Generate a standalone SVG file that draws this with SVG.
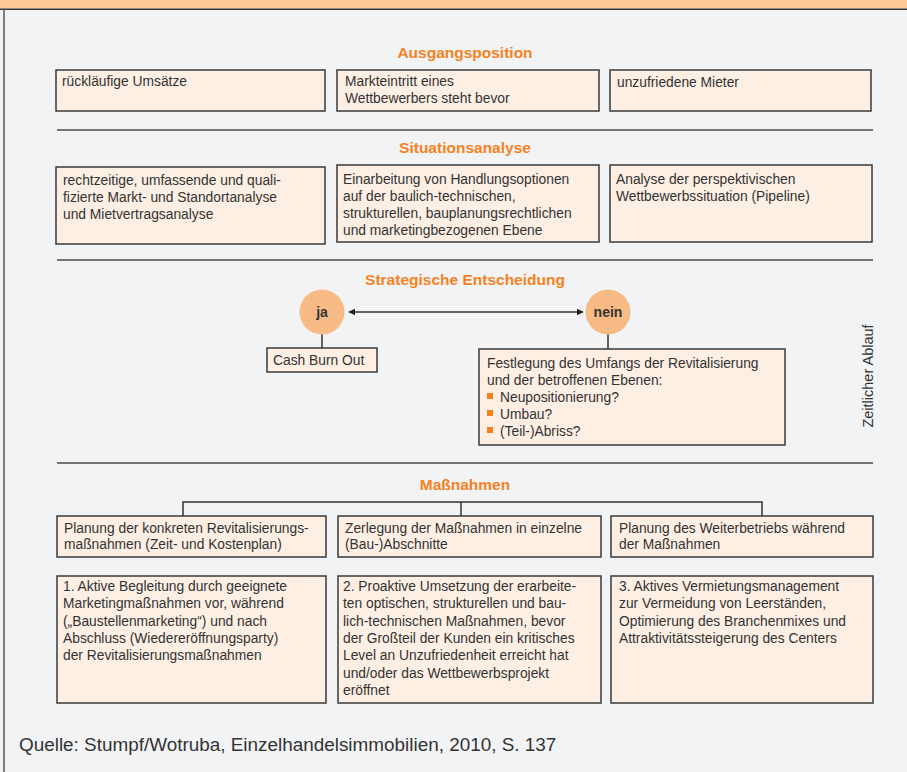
<svg xmlns="http://www.w3.org/2000/svg" width="907" height="772" viewBox="0 0 907 772">
<defs>
<style>
.box{fill:#FDEFE3;stroke:#3a3a3a;stroke-width:1.5}
.t{font-family:"Liberation Sans",Arial,sans-serif;font-size:13.8px;fill:#333}
.h{font-family:"Liberation Sans",Arial,sans-serif;font-size:15.5px;font-weight:bold;fill:#F5821F;text-anchor:middle}
.sep{stroke:#4a4a4a;stroke-width:1.5}
.ln{stroke:#333;stroke-width:1.5;fill:none}
.circ{fill:#F9BB85}
.ct{font-family:"Liberation Sans",Arial,sans-serif;font-size:14px;font-weight:bold;fill:#333;text-anchor:middle}
.bul{fill:#F5821F}
</style>
<marker id="ah" viewBox="0 0 10 10" refX="9" refY="5" markerWidth="7" markerHeight="7" orient="auto-start-reverse" markerUnits="userSpaceOnUse">
<path d="M0,0 L10,5 L0,10 z" fill="#222"/>
</marker>
</defs>
<rect x="0" y="0" width="907" height="772" fill="#F2F3F5"/>
<rect x="0" y="0" width="907" height="8.5" fill="#FFC896"/>
<line x1="0" y1="9.2" x2="907" y2="9.2" stroke="#333" stroke-width="1.5"/>
<line x1="4" y1="9" x2="4" y2="772" stroke="#555" stroke-width="1.5"/>

<g id="separators">
<line class="sep" x1="57" y1="130" x2="873" y2="130"/>
<line class="sep" x1="57" y1="260" x2="873" y2="260" stroke="#777"/>
<line class="sep" x1="57" y1="463" x2="873" y2="463"/>
</g>

<g id="titles">
<text class="h" x="465" y="58">Ausgangsposition</text>
<text class="h" x="465" y="153">Situationsanalyse</text>
<text class="h" x="465" y="285">Strategische Entscheidung</text>
<text class="h" x="465" y="490">Maßnahmen</text>
</g>

<g id="connectors">
<line class="ln" x1="349" y1="312" x2="583" y2="312" marker-start="url(#ah)" marker-end="url(#ah)"/>
<line class="ln" x1="322" y1="334" x2="322" y2="348"/>
<line class="ln" x1="608" y1="334" x2="608" y2="349"/>
<polyline class="ln" points="183,516 183,502 762,502 762,516"/>
<line class="ln" x1="461" y1="502" x2="461" y2="516"/>
</g>

<g id="a1"><rect class="box" x="56" y="70" width="269" height="41"/>
<text class="t" x="62" y="86">rückläufige Umsätze</text></g>
<g id="a2"><rect class="box" x="337" y="70" width="262" height="41"/>
<text class="t" x="345" y="86">Markteintritt eines</text>
<text class="t" x="345" y="103">Wettbewerbers steht bevor</text></g>
<g id="a3"><rect class="box" x="610" y="70" width="261" height="41"/>
<text class="t" x="617" y="87">unzufriedene Mieter</text></g>

<g id="s1"><rect class="box" x="56" y="167" width="269" height="77"/>
<text class="t" x="63" y="185">rechtzeitige, umfassende und quali-</text>
<text class="t" x="63" y="202">fizierte Markt- und Standortanalyse</text>
<text class="t" x="63" y="219">und Mietvertragsanalyse</text></g>
<g id="s2"><rect class="box" x="337" y="165" width="262" height="77"/>
<text class="t" x="343" y="184">Einarbeitung von Handlungsoptionen</text>
<text class="t" x="343" y="201">auf der baulich-technischen,</text>
<text class="t" x="343" y="218">strukturellen, bauplanungsrechtlichen</text>
<text class="t" x="343" y="235">und marketingbezogenen Ebene</text></g>
<g id="s3"><rect class="box" x="610" y="165" width="262" height="77"/>
<text class="t" x="616" y="184">Analyse der perspektivischen</text>
<text class="t" x="616" y="201">Wettbewerbssituation (Pipeline)</text></g>

<g id="ja"><circle class="circ" cx="322" cy="312" r="22.5"/>
<text class="ct" x="322" y="317">ja</text></g>
<g id="nein"><circle class="circ" cx="608" cy="312" r="22.5"/>
<text class="ct" x="608" y="317">nein</text></g>

<g id="cash"><rect class="box" x="267" y="348" width="110" height="24"/>
<text class="t" x="273" y="365">Cash Burn Out</text></g>

<g id="festlegung"><rect class="box" x="479" y="349" width="306" height="96"/>
<text class="t" x="487" y="368">Festlegung des Umfangs der Revitalisierung</text>
<text class="t" x="487" y="385">und der betroffenen Ebenen:</text>
<rect class="bul" x="487" y="393" width="6" height="6"/>
<text class="t" x="500" y="402">Neupositionierung?</text>
<rect class="bul" x="487" y="410" width="6" height="6"/>
<text class="t" x="500" y="419">Umbau?</text>
<rect class="bul" x="487" y="427" width="6" height="6"/>
<text class="t" x="500" y="436">(Teil-)Abriss?</text></g>

<g id="m1"><rect class="box" x="57" y="516" width="269" height="41"/>
<text class="t" x="64" y="533">Planung der konkreten Revitalisierungs-</text>
<text class="t" x="64" y="549">maßnahmen (Zeit- und Kostenplan)</text></g>
<g id="m2"><rect class="box" x="338" y="516" width="263" height="41"/>
<text class="t" x="345" y="533">Zerlegung der Maßnahmen in einzelne</text>
<text class="t" x="345" y="549">(Bau-)Abschnitte</text></g>
<g id="m3"><rect class="box" x="611" y="516" width="262" height="41"/>
<text class="t" x="619" y="533">Planung des Weiterbetriebs während</text>
<text class="t" x="619" y="549">der Maßnahmen</text></g>

<g id="d1"><rect class="box" x="57" y="576" width="269" height="127"/>
<text class="t" x="63" y="591">1. Aktive Begleitung durch geeignete</text>
<text class="t" x="63" y="608.3">Marketingmaßnahmen vor, während</text>
<text class="t" x="63" y="625.6">(„Baustellenmarketing“) und nach</text>
<text class="t" x="63" y="642.9">Abschluss (Wiedereröffnungsparty)</text>
<text class="t" x="63" y="660.2">der Revitalisierungsmaßnahmen</text></g>
<g id="d2"><rect class="box" x="338" y="576" width="263" height="127"/>
<text class="t" x="343" y="591">2. Proaktive Umsetzung der erarbeite-</text>
<text class="t" x="343" y="608.3">ten optischen, strukturellen und bau-</text>
<text class="t" x="343" y="625.6">lich-technischen Maßnahmen, bevor</text>
<text class="t" x="343" y="642.9">der Großteil der Kunden ein kritisches</text>
<text class="t" x="343" y="660.2">Level an Unzufriedenheit erreicht hat</text>
<text class="t" x="343" y="677.5">und/oder das Wettbewerbsprojekt</text>
<text class="t" x="343" y="694.8">eröffnet</text></g>
<g id="d3"><rect class="box" x="611" y="576" width="262" height="127"/>
<text class="t" x="619" y="591">3. Aktives Vermietungsmanagement</text>
<text class="t" x="619" y="608.3">zur Vermeidung von Leerständen,</text>
<text class="t" x="619" y="625.6">Optimierung des Branchenmixes und</text>
<text class="t" x="619" y="642.9">Attraktivitätssteigerung des Centers</text></g>

<text transform="translate(873,376) rotate(-90)" font-family="Liberation Sans, Arial, sans-serif" font-size="14.5" fill="#333" text-anchor="middle">Zeitlicher Ablauf</text>

<text x="19" y="751" font-family="Liberation Sans, Arial, sans-serif" font-size="18.9" fill="#333">Quelle: Stumpf/Wotruba, Einzelhandelsimmobilien, 2010, S. 137</text>
</svg>
